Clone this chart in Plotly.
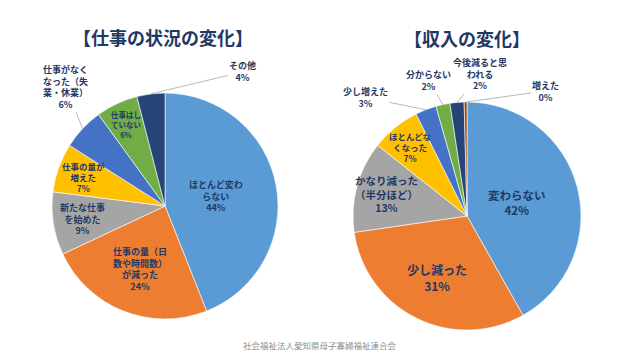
import math
import plotly.graph_objects as go

W, H = 640, 360
FONT = "Noto Sans CJK JP"
NAVY = "#1F3864"

# ---- data ----
work_labels = ["ほとんど変わ<br>らない", "仕事の量（日<br>数や時間数）<br>が減った", "新たな仕事<br>を始めた",
               "仕事の量が<br>増えた", "仕事がなく<br>なった（失<br>業・休業）", "仕事はし<br>ていない", "その他"]
work_values = [44, 24, 9, 7, 6, 6, 4]
work_pct = ["44%", "24%", "9%", "7%", "6%", "6%", "4%"]

inc_labels = ["変わらない", "少し減った", "かなり減った<br>（半分ほど）", "ほとんどな<br>くなった",
              "少し増えた", "分からない", "今後減ると思<br>われる", "増えた"]
inc_values = [42, 31, 13, 7, 3, 2, 2, 0.4]
inc_pct = ["42%", "31%", "13%", "7%", "3%", "2%", "2%", "0%"]

colors = ["#5B9BD5", "#ED7D31", "#A5A5A5", "#FFC000", "#4472C4", "#70AD47", "#264478", "#9E480E"]

# ---- layout / style ----
# pie geometry in pixels: (cx, cy, r)
pies = {"work": (165, 206, 113), "inc": (467, 216, 114)}

# label style per slice: ("in", radial factor, size) or ("out", dx, dy, size)
work_style = [("in", 0.46, 9), ("in", 0.6, 9), ("in", 0.74, 9), ("in", 0.77, 8.5),
              ("out", -17, -42, 9), ("in", 0.8, 7.5), ("out", 92, -22, 9)]
inc_style = [("in", 0.45, 11.5), ("in", 0.6, 12), ("in", 0.73, 10.5), ("in", 0.78, 8.5),
             ("out", -60, -12, 9), ("out", -14, -24, 9), ("out", 23, -28, 9), ("out", 80, -11, 9)]


def domain(cx, cy, r):
    return dict(x=[(cx - r) / W, (cx + r) / W], y=[1 - (cy + r) / H, 1 - (cy - r) / H])


def annotations_for(key, labels, values, pct, style):
    cx, cy, r = pies[key]
    total = sum(values)
    anns = []
    cum = 0.0
    for lab, v, p, st in zip(labels, values, pct, style):
        mid = (cum + v / 2) / total * 2 * math.pi
        cum += v
        s, c = math.sin(mid), math.cos(mid)
        if st[0] == "in":
            f, size = st[1], st[2]
            px, py = cx + f * r * s, cy - f * r * c
            anns.append(dict(x=px / W, y=1 - py / H, xref="paper", yref="paper",
                             xanchor="center", yanchor="middle",
                             text=f"<b>{lab}<br>{p}</b>", showarrow=False,
                             font=dict(family=FONT, size=size, color=NAVY),
                             align="center"))
        else:
            dx, dy, size = st[1], st[2], st[3]
            px, py = cx + r * s, cy - r * c
            anns.append(dict(x=px / W, y=1 - py / H, xref="paper", yref="paper",
                             xanchor="center", yanchor="middle",
                             ax=dx, ay=dy, axref="pixel", ayref="pixel",
                             text=f"<b>{lab}<br>{p}</b>", showarrow=True,
                             arrowhead=0, arrowwidth=0.8, arrowcolor="#A6A6A6",
                             standoff=0, startstandoff=0,
                             font=dict(family=FONT, size=size, color=NAVY),
                             align="center"))
    return anns


fig = go.Figure()
fig.add_trace(go.Pie(values=work_values, labels=[l.replace("<br>", "") for l in work_labels],
                     marker=dict(colors=colors[:7], line=dict(color="white", width=0.6)),
                     sort=False, direction="clockwise", rotation=0, textinfo="none",
                     hoverinfo="label+percent", domain=domain(*pies["work"]), showlegend=False))
fig.add_trace(go.Pie(values=inc_values, labels=[l.replace("<br>", "") for l in inc_labels],
                     marker=dict(colors=colors[:8], line=dict(color="white", width=0.6)),
                     sort=False, direction="clockwise", rotation=0, textinfo="none",
                     hoverinfo="label+percent", domain=domain(*pies["inc"]), showlegend=False))

anns = annotations_for("work", work_labels, work_values, work_pct, work_style)
anns += annotations_for("inc", inc_labels, inc_values, inc_pct, inc_style)
anns.append(dict(x=163 / W, y=1 - 37 / H, xref="paper", yref="paper", showarrow=False,
                 xanchor="center", yanchor="middle",
                 text="<b>【仕事の状況の変化】</b>", font=dict(family=FONT, size=18, color=NAVY)))
anns.append(dict(x=467 / W, y=1 - 38 / H, xref="paper", yref="paper", showarrow=False,
                 xanchor="center", yanchor="middle",
                 text="<b>【収入の変化】</b>", font=dict(family=FONT, size=18, color=NAVY)))
anns.append(dict(x=0.5, y=1 - 345 / H, xref="paper", yref="paper", showarrow=False,
                 xanchor="center", yanchor="middle",
                 text="社会福祉法人愛知県母子寡婦福祉連合会", font=dict(family=FONT, size=8.5, color="#8C8C8C")))

fig.update_layout(width=W, height=H, margin=dict(l=0, r=0, t=0, b=0),
                  paper_bgcolor="white", plot_bgcolor="white", annotations=anns)
fig.write_html("out.html", config={"displayModeBar": False},
               post_script="document.body.style.margin='0';")
